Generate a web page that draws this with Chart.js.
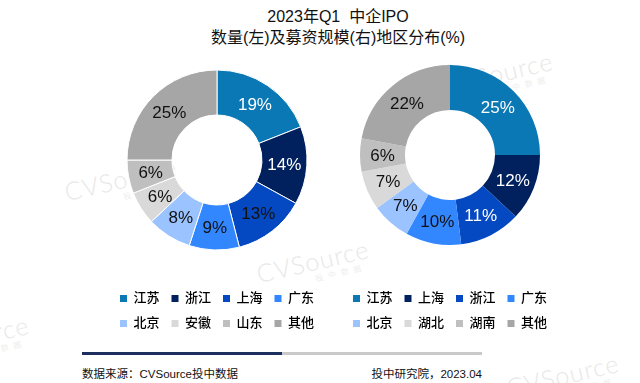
<!DOCTYPE html>
<html>
<head>
<meta charset="utf-8">
<script src="https://cdn.jsdelivr.net/npm/chart.js@4.4.1/dist/chart.umd.min.js"></script>
<style>
  html, body { margin: 0; padding: 0; background: #fff; }
  body { width: 640px; height: 383px; position: relative; overflow: hidden;
         font-family: "Liberation Sans", "Noto Sans CJK SC", sans-serif; }
  .title { position: absolute; left: 138px; width: 400px; top: 6px; text-align: center;
           font-size: 16px; line-height: 21px; color: #111; }
  .wm { position: absolute; color: #e8e8e8; font-family: Lato, sans-serif; font-weight: 300;
        font-size: 25px; transform: rotate(-13deg); transform-origin: left bottom;
        white-space: nowrap; letter-spacing: 1px; }
  .wm span { display: block; font-family: "Noto Sans CJK SC"; font-size: 8px; margin-left: 56px;
             letter-spacing: 5px; margin-top: -3px; }
  .box { position: absolute; }
  #leftBox { left: 102px; top: 40px; width: 230px; height: 300px; }
  #rightBox { left: 335px; top: 30px; width: 230px; height: 310px; }
  .rule { position: absolute; top: 352px; height: 3px; }
  .foot { position: absolute; top: 365px; font-size: 11.5px; color: #111; }
</style>
</head>
<body>
<div class="wm" style="left:70px; top:176px;">CVSource<span>投中数据</span></div>
<div class="wm" style="left:262px; top:258px;">CVSource<span>投中数据</span></div>
<div class="wm" style="left:446px; top:70px;">CVSource<span>投中数据</span></div>
<div class="wm" style="left:-78px; top:334px;">CVSource<span>投中数据</span></div>
<div class="wm" style="left:512px; top:372px;">CVSource<span>投中数据</span></div>

<div class="title">2023年Q1&nbsp;&nbsp;中企IPO<br>数量(左)及募资规模(右)地区分布(%)</div>

<div class="box" id="leftBox"><canvas id="leftChart"></canvas></div>
<div class="box" id="rightBox"><canvas id="rightChart"></canvas></div>

<div class="rule" style="left:82px; width:200px; background:#1c2f5e;"></div>
<div class="rule" style="left:282px; width:200px; background:#c9c9c9;"></div>
<div class="foot" style="left:82px;">数据来源：CVSource投中数据</div>
<div class="foot" style="right:158px;">投中研究院，2023.04</div>

<script>
  // left: IPO count share, right: fundraising share (%)
  const countRegions = ["江苏", "浙江", "上海", "广东", "北京", "安徽", "山东", "其他"];
  const countShare = [19, 14, 13, 9, 8, 6, 6, 25];
  const fundRegions = ["江苏", "上海", "浙江", "广东", "北京", "湖北", "湖南", "其他"];
  const fundShare = [25, 12, 11, 10, 7, 7, 6, 22];

  const sliceColors = ["#0a78b4", "#00215e", "#0448c2", "#3287ff", "#9ac3ff", "#d9d9d9", "#bfbfbf", "#a6a6a6"];

  const FONT = "'Liberation Sans', 'Noto Sans CJK SC', sans-serif";

  // percentage labels in the middle of each ring segment
  const sliceLabels = {
    id: "sliceLabels",
    afterDatasetsDraw(chart, args, opts) {
      const ctx = chart.ctx;
      const meta = chart.getDatasetMeta(0);
      const values = chart.data.datasets[0].data;
      ctx.save();
      ctx.font = "17px " + FONT;
      ctx.textAlign = "center";
      ctx.textBaseline = "middle";
      meta.data.forEach((arc, i) => {
        const p = arc.tooltipPosition();
        ctx.fillStyle = i < opts.lightCount ? "#ffffff" : "#111111";
        ctx.fillText(values[i] + "%", p.x, p.y + 1);
      });
      ctx.restore();
    },
  };

  function makeDonut(canvasId, labels, values, border, lightCount) {
    return new Chart(document.getElementById(canvasId), {
      type: "doughnut",
      data: {
        labels: labels,
        datasets: [{
          data: values,
          backgroundColor: sliceColors,
          borderColor: "#ffffff",
          borderWidth: border,
          radius: 90,
          cutout: "50%",
        }],
      },
      options: {
        responsive: true,
        maintainAspectRatio: false,
        animation: false,
        layout: { padding: 0 },
        plugins: {
          sliceLabels: { lightCount: lightCount },
          tooltip: { enabled: false },
          legend: {
            position: "bottom",
            labels: {
              boxWidth: 7,
              boxHeight: 7,
              padding: 12,
              color: "#111",
              font: { size: 13, weight: "500", family: FONT },
              generateLabels(chart) {
                return chart.data.labels.map((t, i) => ({
                  text: t,
                  fillStyle: sliceColors[i],
                  strokeStyle: sliceColors[i],
                  lineWidth: 0,
                  index: i,
                }));
              },
            },
          },
        },
      },
      plugins: [sliceLabels],
    });
  }

  makeDonut("leftChart", countRegions, countShare, 1, 2);
  makeDonut("rightChart", fundRegions, fundShare, 0, 3);
</script>
</body>
</html>
